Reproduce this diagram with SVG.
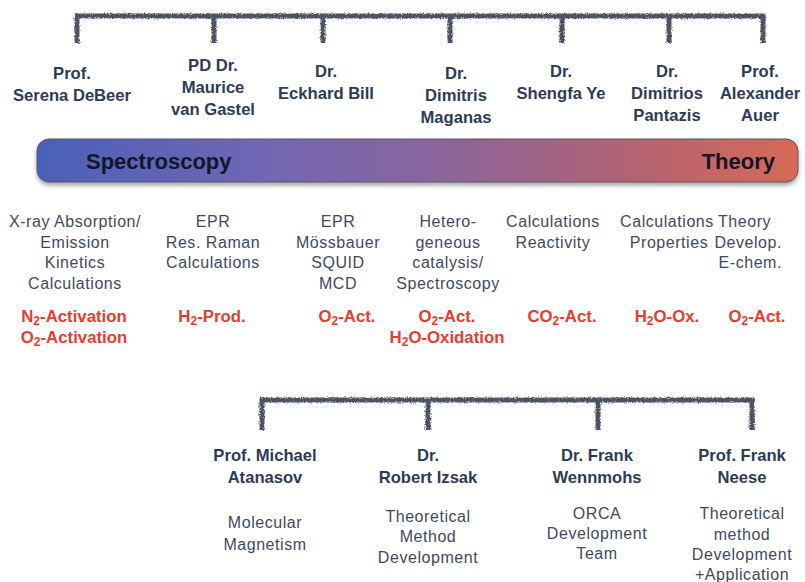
<svg xmlns="http://www.w3.org/2000/svg" width="805" height="582" viewBox="0 0 805 582">
  <defs>
    <linearGradient id="barGrad" x1="0" y1="0" x2="1" y2="0">
      <stop offset="0" stop-color="#4a61b8"/>
      <stop offset="0.3" stop-color="#7266b3"/>
      <stop offset="0.55" stop-color="#8d6599"/>
      <stop offset="0.8" stop-color="#b6636f"/>
      <stop offset="1" stop-color="#d56a57"/>
    </linearGradient>
    <filter id="barShadow" x="-5%" y="-30%" width="110%" height="170%">
      <feDropShadow dx="0" dy="3" stdDeviation="2" flood-color="#000" flood-opacity="0.35"/>
    </filter>
    <filter id="rough" x="-5%" y="-50%" width="110%" height="200%">
      <feTurbulence type="fractalNoise" baseFrequency="0.7" numOctaves="2" seed="3" result="noise"/>
      <feDisplacementMap in="SourceGraphic" in2="noise" scale="3.5" xChannelSelector="R" yChannelSelector="G"/>
    </filter>
  </defs>
  <style>
    .name { font-family: "Liberation Sans", Arial, sans-serif; font-weight: bold; font-size: 16.6px; fill: #2d3b57; text-anchor: middle; }
    .desc { font-family: "Liberation Sans", Arial, sans-serif; font-size: 16px; letter-spacing: 0.55px; fill: #3e4a5f; text-anchor: middle; }
    .topic { font-family: "Liberation Sans", Arial, sans-serif; font-weight: bold; font-size: 16.8px; fill: #e53d2e; text-anchor: middle; }
    .sub { font-size: 12px; }
    .start { text-anchor: start; }
    .end { text-anchor: end; }
    .barlabel { font-family: "Liberation Sans", Arial, sans-serif; font-weight: bold; font-size: 22px; fill: #111727; }
    .bracket { fill: none; stroke: #4d5363; stroke-width: 5; stroke-linejoin: miter; stroke-linecap: butt; }
  </style>

  <rect width="805" height="582" fill="#ffffff"/>

  <!-- brackets -->
  <g id="connectors" filter="url(#rough)">
    <path class="bracket" d="M77,43 V16 H763 V43 M214,16 V43 M323,16 V43 M450,16 V43 M562,16 V43 M669,16 V43"/>
    <path class="bracket" d="M262,430 V400 H752 V430 M428,400 V430 M598,400 V430"/>
  </g>

  <!-- spectroscopy / theory scale -->
  <g id="scale-bar">
    <rect x="37" y="139" width="761" height="43" rx="12" ry="12" fill="url(#barGrad)" stroke="#5a5560" stroke-width="1" filter="url(#barShadow)"/>
    <text class="barlabel" x="86" y="169">Spectroscopy</text>
    <text class="barlabel end" x="775" y="169">Theory</text>
  </g>

  <g id="debeer">
    <text class="name" x="72" y="79">Prof.</text>
    <text class="name" x="72" y="101">Serena DeBeer</text>
    <text class="desc" x="75" y="227">X-ray Absorption/</text>
    <text class="desc" x="75" y="248">Emission</text>
    <text class="desc" x="75" y="268">Kinetics</text>
    <text class="desc" x="75" y="289">Calculations</text>
    <text class="topic" x="74" y="322">N<tspan class="sub" dy="3">2</tspan><tspan dy="-3">-Activation</tspan></text>
    <text class="topic" x="74" y="343">O<tspan class="sub" dy="3">2</tspan><tspan dy="-3">-Activation</tspan></text>
  </g>

  <g id="vangastel">
    <text class="name" x="213" y="71">PD Dr.</text>
    <text class="name" x="213" y="93">Maurice</text>
    <text class="name" x="213" y="115">van Gastel</text>
    <text class="desc" x="213" y="227">EPR</text>
    <text class="desc" x="213" y="248">Res. Raman</text>
    <text class="desc" x="213" y="268">Calculations</text>
    <text class="topic" x="212" y="322">H<tspan class="sub" dy="3">2</tspan><tspan dy="-3">-Prod.</tspan></text>
  </g>

  <g id="bill">
    <text class="name" x="326" y="77">Dr.</text>
    <text class="name" x="326" y="99">Eckhard Bill</text>
    <text class="desc" x="338" y="227">EPR</text>
    <text class="desc" x="338" y="248">Mössbauer</text>
    <text class="desc" x="338" y="268">SQUID</text>
    <text class="desc" x="338" y="289">MCD</text>
    <text class="topic" x="347" y="322">O<tspan class="sub" dy="3">2</tspan><tspan dy="-3">-Act.</tspan></text>
  </g>

  <g id="maganas">
    <text class="name" x="456" y="79">Dr.</text>
    <text class="name" x="456" y="101">Dimitris</text>
    <text class="name" x="456" y="123">Maganas</text>
    <text class="desc" x="448" y="227">Hetero-</text>
    <text class="desc" x="448" y="248">geneous</text>
    <text class="desc" x="448" y="268">catalysis/</text>
    <text class="desc" x="448" y="289">Spectroscopy</text>
    <text class="topic" x="447" y="322">O<tspan class="sub" dy="3">2</tspan><tspan dy="-3">-Act.</tspan></text>
    <text class="topic" x="447" y="343">H<tspan class="sub" dy="3">2</tspan><tspan dy="-3">O-Oxidation</tspan></text>
  </g>

  <g id="ye">
    <text class="name" x="561" y="77">Dr.</text>
    <text class="name" x="561" y="99">Shengfa Ye</text>
    <text class="desc" x="553" y="227">Calculations</text>
    <text class="desc" x="553" y="248">Reactivity</text>
    <text class="topic" x="562" y="322">CO<tspan class="sub" dy="3">2</tspan><tspan dy="-3">-Act.</tspan></text>
  </g>

  <g id="pantazis">
    <text class="name" x="667" y="77">Dr.</text>
    <text class="name" x="667" y="99">Dimitrios</text>
    <text class="name" x="667" y="121">Pantazis</text>
    <text class="desc" x="667" y="227">Calculations</text>
    <text class="desc" x="669" y="248">Properties</text>
    <text class="topic" x="667" y="322">H<tspan class="sub" dy="3">2</tspan><tspan dy="-3">O-Ox.</tspan></text>
  </g>

  <g id="auer">
    <text class="name" x="760" y="77">Prof.</text>
    <text class="name" x="760" y="99">Alexander</text>
    <text class="name" x="760" y="121">Auer</text>
    <text class="desc start" x="718" y="227">Theory</text>
    <text class="desc end" x="782" y="248">Develop.</text>
    <text class="desc end" x="782" y="268">E-chem.</text>
    <text class="topic" x="757" y="322">O<tspan class="sub" dy="3">2</tspan><tspan dy="-3">-Act.</tspan></text>
  </g>

  <g id="atanasov">
    <text class="name" x="265" y="461">Prof. Michael</text>
    <text class="name" x="265" y="483">Atanasov</text>
    <text class="desc" x="265" y="528">Molecular</text>
    <text class="desc" x="265" y="550">Magnetism</text>
  </g>

  <g id="izsak">
    <text class="name" x="428" y="461">Dr.</text>
    <text class="name" x="428" y="483">Robert Izsak</text>
    <text class="desc" x="428" y="522">Theoretical</text>
    <text class="desc" x="428" y="542">Method</text>
    <text class="desc" x="428" y="563">Development</text>
  </g>

  <g id="wennmohs">
    <text class="name" x="597" y="461">Dr. Frank</text>
    <text class="name" x="597" y="483">Wennmohs</text>
    <text class="desc" x="597" y="519">ORCA</text>
    <text class="desc" x="597" y="539">Development</text>
    <text class="desc" x="597" y="559">Team</text>
  </g>

  <g id="neese">
    <text class="name" x="742" y="461">Prof. Frank</text>
    <text class="name" x="742" y="483">Neese</text>
    <text class="desc" x="742" y="519">Theoretical</text>
    <text class="desc" x="742" y="540">method</text>
    <text class="desc" x="742" y="560">Development</text>
    <text class="desc" x="742" y="580">+Application</text>
  </g>
</svg>
